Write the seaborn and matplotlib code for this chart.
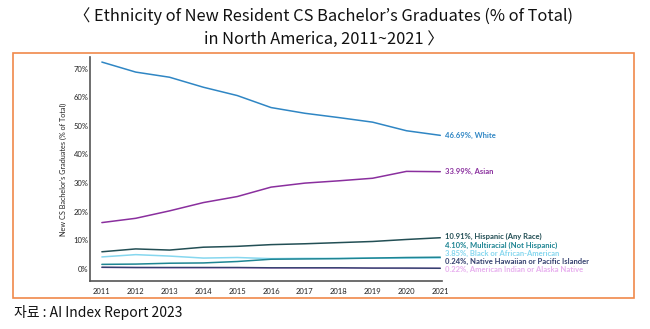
import numpy as np
import pandas as pd
import matplotlib
matplotlib.use("Agg")
import matplotlib.pyplot as plt
import seaborn as sns
from matplotlib.patches import Rectangle

years = [2011, 2012, 2013, 2014, 2015, 2016, 2017, 2018, 2019, 2020, 2021]
white = [72.3, 68.8, 67.0, 63.5, 60.6, 56.4, 54.4, 52.9, 51.3, 48.3, 46.69]
asian = [16.2, 17.7, 20.3, 23.2, 25.3, 28.6, 30.0, 30.8, 31.7, 34.1, 33.99]
hispanic = [6.0, 7.0, 6.6, 7.6, 7.9, 8.5, 8.8, 9.2, 9.6, 10.3, 10.91]
multiracial = [1.6, 1.7, 2.0, 2.1, 2.6, 3.4, 3.5, 3.6, 3.8, 4.0, 4.10]
black = [4.2, 5.0, 4.5, 3.8, 4.0, 3.6, 3.7, 3.7, 3.8, 3.8, 3.85]
hawaiian = [0.6, 0.5, 0.5, 0.5, 0.5, 0.4, 0.4, 0.4, 0.3, 0.3, 0.24]
amindian = [0.5, 0.5, 0.4, 0.4, 0.4, 0.3, 0.3, 0.3, 0.3, 0.2, 0.22]

series_names = ["White", "Asian", "Hispanic (Any Race)", "Multiracial (Not Hispanic)",
                "Black or African-American", "Native Hawaiian or Pacific Islander",
                "American Indian or Alaska Native"]
series_vals = [white, asian, hispanic, multiracial, black, hawaiian, amindian]
colors = ["#2f86c4", "#8a2f9e", "#234f55", "#1f8593", "#86d7ef", "#34406e", "#e8b0ef"]
end_labels = ["46.69%, White", "33.99%, Asian", "10.91%, Hispanic (Any Race)",
              "4.10%, Multiracial (Not Hispanic)", "3.85%, Black or African-American",
              "0.24%, Native Hawaiian or Pacific Islander", "0.22%, American Indian or Alaska Native"]
label_y = [46.69, 33.99, 11.4, 8.4, 5.5, 2.6, -0.2]
ytick_vals = [0, 10, 20, 30, 40, 50, 60, 70]
ytick_labels = ["0%", "10%", "20%", "30%", "40%", "50%", "60%", "70%"]

rows = []
for name, vals in zip(series_names, series_vals):
    for y, v in zip(years, vals):
        rows.append({"Year": y, "Value": v, "Series": name})
df = pd.DataFrame(rows)

sns.set_theme(style="white")
plt.rcParams['font.family'] = ['Lato', 'DejaVu Sans']

fig = plt.figure(figsize=(6.5, 3.29), dpi=100)
ax = fig.add_axes([0.1385, 0.146, 0.5415, 0.681])

order = list(reversed(series_names))
pal = dict(zip(series_names, colors))
sns.lineplot(data=df, x="Year", y="Value", hue="Series", hue_order=order,
             palette=pal, ax=ax, linewidth=1.1, legend=False)

ax.set_xlim(2010.65, 2021.05)
ax.set_ylim(-4.2, 74.1)
ax.set_xticks(years)
ax.set_xticklabels([str(y) for y in years], fontsize=5.5, color="#222222")
ax.set_yticks(ytick_vals)
ax.set_yticklabels(ytick_labels, fontsize=5.5, color="#222222")
ax.tick_params(axis="x", length=0, pad=5)
ax.tick_params(axis="y", length=0, pad=1.2)
ax.set_xlabel("")
ax.set_ylabel("New CS Bachelor's Graduates (% of Total)", fontsize=5.2, color="#222222", labelpad=4.5)
for s in ["top", "right"]:
    ax.spines[s].set_visible(False)
for s in ["left", "bottom"]:
    ax.spines[s].set_color("#555555")
    ax.spines[s].set_linewidth(1.2)

for txt, yv, c in zip(end_labels, label_y, colors):
    ax.text(2021.15, yv, txt, fontsize=5.5, color=c, va="center", ha="left",
            fontweight="bold", clip_on=False)

cjk = ["Noto Sans CJK KR", "DejaVu Sans"]
fig.text(324 / 650, 1 - 16 / 329, "〈 Ethnicity of New Resident CS Bachelor’s Graduates (% of Total)",
         ha="center", va="center", fontsize=11.8, family=cjk, color="#111111")
fig.text(324 / 650, 1 - 39 / 329, "in North America, 2011~2021 〉",
         ha="center", va="center", fontsize=11.8, family=cjk, color="#111111")
fig.text(14 / 650, 1 - 312 / 329, "자료 : AI Index Report 2023", ha="left", va="center",
         fontsize=10, family=cjk, color="#111111")

fig.patches.append(Rectangle((13 / 650, 1 - 298 / 329), 621 / 650, 245 / 329,
                             transform=fig.transFigure, fill=False,
                             edgecolor="#f0894a", linewidth=1.2))

fig.savefig("out.png", dpi=100)
